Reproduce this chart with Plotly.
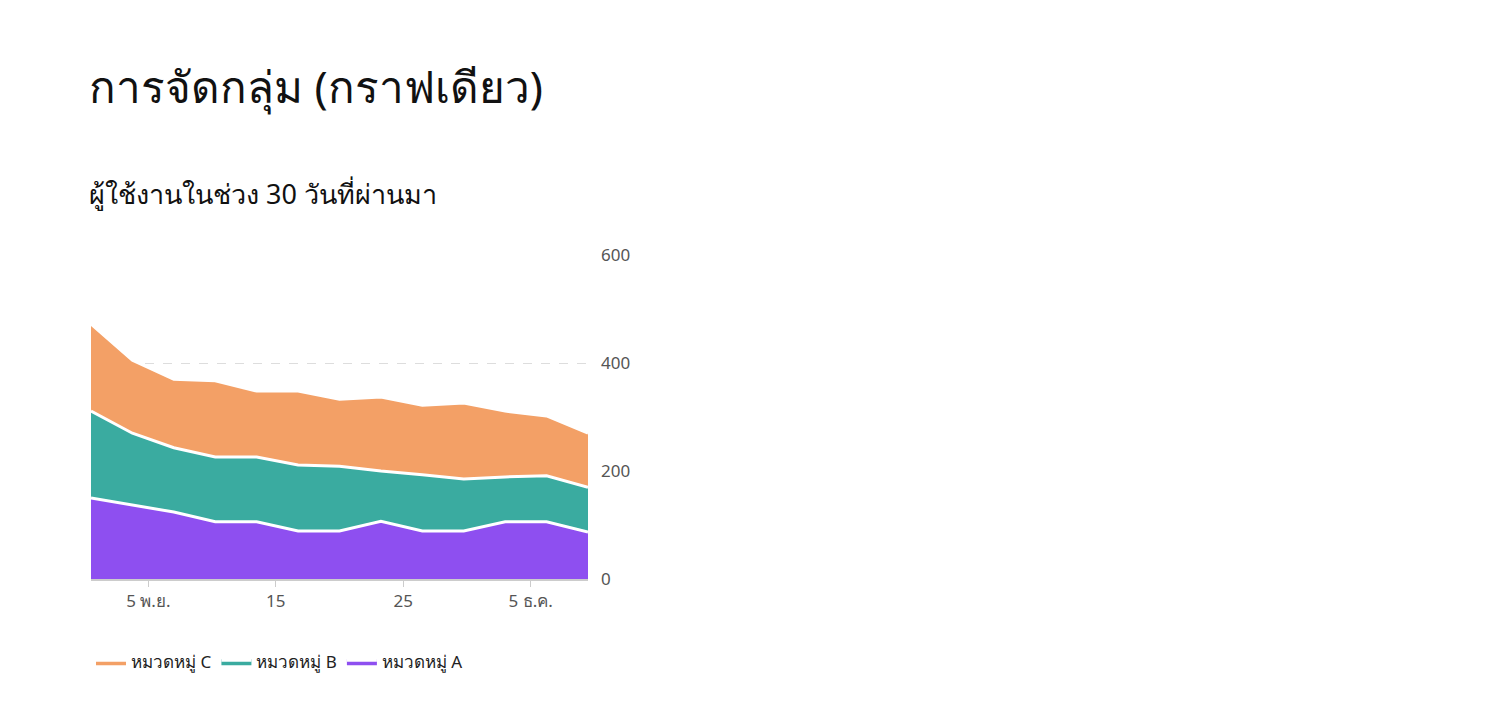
import plotly.graph_objects as go
import pandas as pd

dates = pd.date_range("2023-10-31 12:00", periods=13, freq="78h")
series_names = ["หมวดหมู่ A", "หมวดหมู่ B", "หมวดหมู่ C"]
vals_a = [150, 137, 124, 106, 106, 89, 89, 107, 89, 89, 106, 106, 87]
vals_b = [161, 133, 119, 120, 120, 122, 120, 93, 104, 96, 83, 85, 83]
vals_c = [161, 135, 127, 141, 122, 137, 124, 137, 129, 141, 122, 111, 100]
colors = ["#8e4ff0", "#3aaba0", "#f3a066"]
tickvals = ["2023-11-05", "2023-11-15", "2023-11-25", "2023-12-05"]
ticktext = ["5 พ.ย.", "15", "25", "5 ธ.ค."]

fig = go.Figure()
for name, v, c in zip(series_names, [vals_a, vals_b, vals_c], colors):
    fig.add_trace(go.Scatter(x=dates, y=v, name=name, stackgroup="one", mode="lines",
                             line=dict(color="white", width=3), fillcolor=c))

fig.update_layout(
    width=1488, height=720, paper_bgcolor="white", plot_bgcolor="white",
    margin=dict(l=83, r=908, t=247, b=149),
    font=dict(family="Noto Sans, Roboto", color="#222"),
    showlegend=True,
    legend=dict(orientation="h", x=0, xanchor="left", y=-0.2, yanchor="top",
                font=dict(size=17, color="#222"), itemsizing="constant"),
    xaxis=dict(range=[dates[0], dates[-1]], tickvals=tickvals, ticktext=ticktext,
               showgrid=False, showline=True, linecolor="#ccc", linewidth=2,
               ticks="outside", tickcolor="#ccc", ticklen=6,
               tickfont=dict(size=17, color="#555")),
    yaxis=dict(side="right", range=[0, 600], tickvals=[0, 200, 400, 600],
               showgrid=True, gridcolor="#ddd", griddash="dash", zeroline=False,
               tickfont=dict(size=17, color="#555"), ticklabelstandoff=12),
    annotations=[
        dict(text="การจัดกลุ่ม (กราฟเดียว)", xref="paper", yref="paper", x=0, y=(720-78)/720 - (247/720),
             showarrow=False, xanchor="left", yanchor="middle", font=dict(size=44, color="#111")),
    ],
)
# Use pixel-anchored titles via paper coords relative to plot area
ph = 720 - 247 - 149
def ypix(p):
    return (571 - p) / ph
fig.layout.annotations = []
fig.add_annotation(text="การจัดกลุ่ม (กราฟเดียว)", xref="paper", yref="paper", x=0, y=ypix(78),
                   showarrow=False, xanchor="left", yanchor="middle", xshift=-4,
                   font=dict(size=44, color="#111"))
fig.add_annotation(text="ผู้ใช้งานในช่วง 30 วันที่ผ่านมา", xref="paper", yref="paper", x=0, y=ypix(185),
                   showarrow=False, xanchor="left", yanchor="middle", xshift=-4,
                   font=dict(size=27, color="#111"))
fig.write_html("out.html")
